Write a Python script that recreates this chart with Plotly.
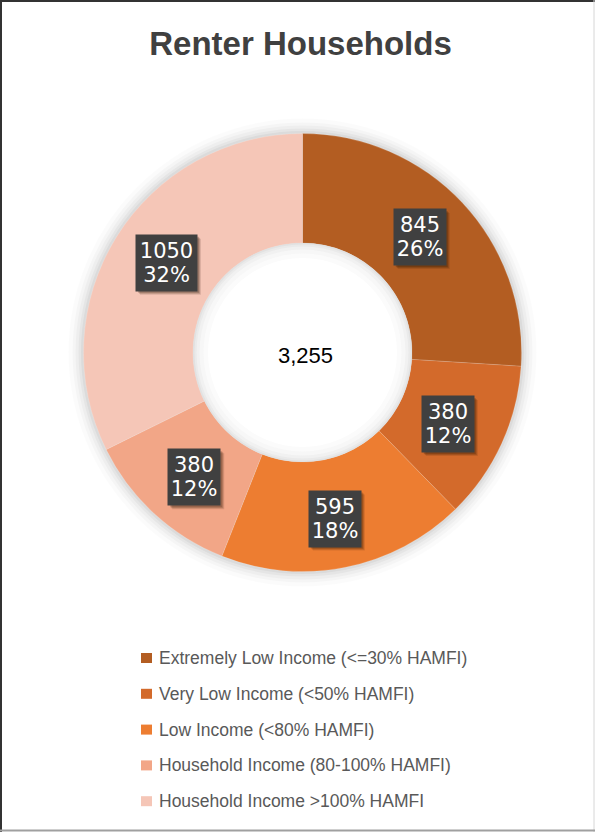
import math
import plotly.graph_objects as go

# ---- data ----
categories = [
    "Extremely Low Income (<=30% HAMFI)",
    "Very Low Income (<50% HAMFI)",
    "Low Income (<80% HAMFI)",
    "Household Income (80-100% HAMFI)",
    "Household Income >100% HAMFI",
]
households = [845, 380, 595, 380, 1050]
center_total = "3,255"
chart_title = "Renter Households"

# ---- styling ----
slice_colors = ["#B35D22", "#D36A2B", "#ED7D31", "#F2A687", "#F5C6B7"]

W, H = 595, 832
CX, CY = 302.5, 352.5          # donut centre, px from top-left
R_OUT = 219.0
HOLE = 0.5
R_IN = R_OUT * HOLE
R_MID = (R_OUT + R_IN) / 2

# callout nudges in px (right, down) relative to the ring mid-line
label_nudge = [(-2.5, -3), (-4, 3), (0, 5), (3, 4), (3.5, -3)]

LEGEND_TOP = 658
LEGEND_STEP = 35.8


def fx(px):
    return px / W


def fy(py):
    return 1 - py / H


fig = go.Figure()
fig.add_trace(
    go.Pie(
        labels=categories,
        values=households,
        hole=HOLE,
        sort=False,
        direction="clockwise",
        rotation=0,
        textinfo="none",
        hoverinfo="label+value+percent",
        showlegend=False,
        marker=dict(colors=slice_colors,
                    line=dict(color="rgba(255,255,255,0.25)", width=0.6)),
        domain=dict(x=[fx(CX - R_OUT), fx(CX + R_OUT)],
                    y=[fy(CY + R_OUT), fy(CY - R_OUT)]),
    )
)

shapes = []


def circle(r, fill, layer):
    return dict(type="circle", xref="paper", yref="paper",
                x0=fx(CX - r), x1=fx(CX + r), y0=fy(CY + r), y1=fy(CY - r),
                fillcolor=fill, line=dict(width=0), layer=layer)


# soft glow around the ring
for extra, alpha in [(15, 0.016), (11, 0.022), (8, 0.028), (5, 0.035), (2.5, 0.045)]:
    shapes.append(circle(R_OUT + extra, f"rgba(0,0,0,{alpha})", "below"))

# hole with inner shading
for shrink, fill in [(0, "#e2e2e2"), (1.5, "#eaeaea"), (3.5, "#f1f1f1"),
                     (6.5, "#f7f7f7"), (10.5, "#fbfbfb"), (15, "#ffffff")]:
    shapes.append(circle(R_IN - shrink, fill, "above"))

annotations = []

# value / share callouts
total = sum(households)
cum = 0
for i, v in enumerate(households):
    theta = 2 * math.pi * (cum + v / 2) / total
    cum += v
    pct = round(100 * v / total)
    dx, dy = label_nudge[i]
    bx = CX + R_MID * math.sin(theta) + dx
    by = CY - R_MID * math.cos(theta) + dy
    lines = [str(v), f"{pct}%"]
    n = max(len(s) for s in lines)
    tw, th, pad = 9 * n + 19, 50, 3
    bw, bh = tw + 2 * pad, th + 2 * pad
    for (ox, oy, a) in [(4, 4, 0.12), (3, 3, 0.18), (2, 2, 0.22)]:
        shapes.append(dict(type="rect", xref="paper", yref="paper",
                           xsizemode="pixel", ysizemode="pixel",
                           xanchor=fx(bx), yanchor=fy(by),
                           x0=-bw / 2 + ox, x1=bw / 2 + ox,
                           y0=-bh / 2 - oy, y1=bh / 2 - oy,
                           fillcolor=f"rgba(40,20,0,{a})", line=dict(width=0),
                           layer="above"))
    annotations.append(dict(
        x=fx(bx), y=fy(by), xref="paper", yref="paper",
        xanchor="center", yanchor="middle", showarrow=False,
        text="<br>".join(f"<span style='font-size:21px'>{s}</span>" for s in lines),
        font=dict(family="DejaVu Sans", size=18.5, color="#ffffff"),
        bgcolor="#404040", width=tw, height=th, borderpad=pad,
        align="center", valign="middle",
    ))

# total in the hole
annotations.append(dict(
    x=fx(305), y=fy(355), xref="paper", yref="paper",
    xanchor="center", yanchor="middle", showarrow=False,
    text=center_total,
    font=dict(family="Liberation Sans, Arial, sans-serif", size=22, color="#000000"),
))

# legend rows
for i, (name, col) in enumerate(zip(categories, slice_colors)):
    ry = LEGEND_TOP + i * LEGEND_STEP
    shapes.append(dict(type="rect", xref="paper", yref="paper",
                       x0=fx(141), x1=fx(152), y0=fy(ry + 5), y1=fy(ry - 5),
                       fillcolor=col, line=dict(width=0)))
    annotations.append(dict(
        x=fx(157), y=fy(ry), xref="paper", yref="paper",
        xanchor="left", yanchor="middle", showarrow=False, text=name,
        font=dict(family="Liberation Sans, Arial, sans-serif", size=17.5, color="#595959"),
    ))

# outer frame
shapes += [
    dict(type="line", xref="paper", yref="paper", x0=fx(1), x1=fx(1), y0=0, y1=1,
         line=dict(color="#333333", width=2)),
    dict(type="line", xref="paper", yref="paper", x0=0, x1=1, y0=fy(1), y1=fy(1),
         line=dict(color="#333333", width=2)),
    dict(type="line", xref="paper", yref="paper", x0=fx(594), x1=fx(594), y0=0, y1=1,
         line=dict(color="#d6d6d6", width=1)),
    dict(type="line", xref="paper", yref="paper", x0=0, x1=1, y0=fy(830.5), y1=fy(830.5),
         line=dict(color="#a0a0a0", width=2)),
]

fig.update_layout(
    width=W, height=H,
    margin=dict(l=0, r=0, t=0, b=0),
    paper_bgcolor="#ffffff",
    plot_bgcolor="#ffffff",
    showlegend=False,
    title=dict(text=chart_title, x=fx(300.5), xanchor="center",
               y=fy(43.5), yanchor="middle", xref="container", yref="container",
               font=dict(family="Liberation Sans, Arial, sans-serif", size=33,
                         color="#404040", weight=700)),
    shapes=shapes,
    annotations=annotations,
)

fig.write_html("out.html")
